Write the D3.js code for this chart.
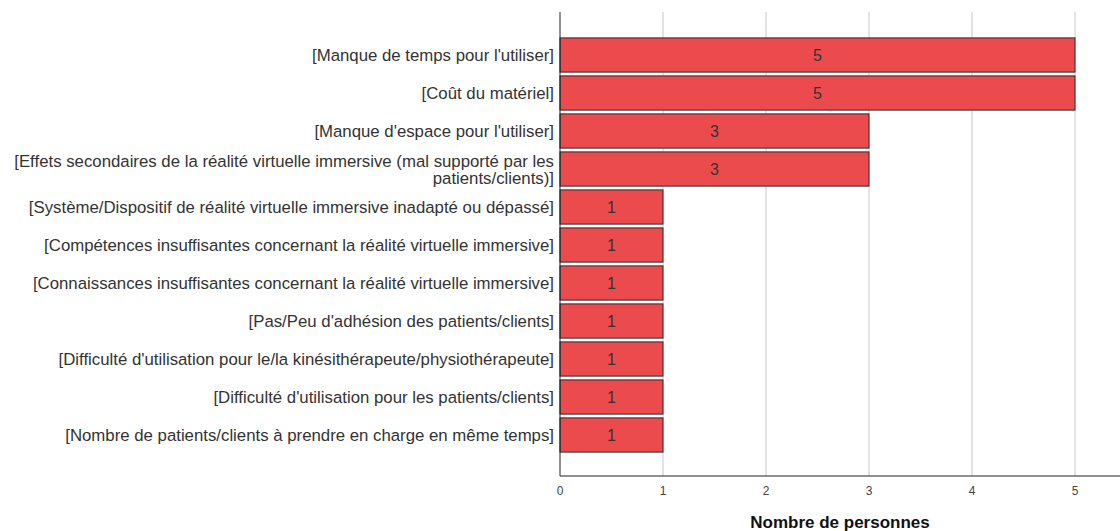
<!DOCTYPE html>
<html lang="fr">
<head>
  <meta charset="UTF-8">
  <title>Obstacles</title>
  <script src="https://cdn.jsdelivr.net/npm/d3@7"></script>
  <style>
    body { margin: 0; background: #fff; }
    text { font-family: "Liberation Sans", Arial, sans-serif; }
  </style>
</head>
<body>
<script>
// categories (top to bottom) and counts
var categories = [
  "[Manque de temps pour l'utiliser]",
  "[Coût du matériel]",
  "[Manque d'espace pour l'utiliser]",
  "[Effets secondaires de la réalité virtuelle immersive (mal supporté par les|patients/clients)]",
  "[Système/Dispositif de réalité virtuelle immersive inadapté ou dépassé]",
  "[Compétences insuffisantes concernant la réalité virtuelle immersive]",
  "[Connaissances insuffisantes concernant la réalité virtuelle immersive]",
  "[Pas/Peu d'adhésion des patients/clients]",
  "[Difficulté d'utilisation pour le/la kinésithérapeute/physiothérapeute]",
  "[Difficulté d'utilisation pour les patients/clients]",
  "[Nombre de patients/clients à prendre en charge en même temps]"
];
var counts = [5, 5, 3, 3, 1, 1, 1, 1, 1, 1, 1];
var xTicks = [0, 1, 2, 3, 4, 5];

var w = 1120, h = 531;
var x0 = 560, axisY = 476, plotTop = 12;

var svg = d3.select("body").append("svg")
  .attr("width", w).attr("height", h);

var xScale = d3.scaleLinear().domain([0, 5]).range([x0, 1075]);
var yScale = d3.scaleBand().domain(categories)
  .range([36, 454]).paddingInner(0.1).paddingOuter(0.05);

// grid lines
svg.append("g").selectAll("line")
  .data(xTicks.filter(function(d) { return d > 0; }))
  .enter().append("line")
  .attr("x1", function(d) { return xScale(d); })
  .attr("x2", function(d) { return xScale(d); })
  .attr("y1", plotTop).attr("y2", axisY)
  .attr("stroke", "#c8c8c8").attr("stroke-width", 1);

// bars
svg.append("g").selectAll("rect")
  .data(categories)
  .enter().append("rect")
  .attr("x", xScale(0))
  .attr("y", function(d) { return yScale(d); })
  .attr("width", function(d, i) { return xScale(counts[i]) - xScale(0); })
  .attr("height", yScale.bandwidth())
  .attr("fill", "#ec4b4e")
  .attr("stroke", "#2a2a2a").attr("stroke-width", 1);

// value labels
svg.append("g").selectAll("text")
  .data(categories)
  .enter().append("text")
  .attr("x", function(d, i) { return (xScale(0) + xScale(counts[i])) / 2; })
  .attr("y", function(d) { return yScale(d) + yScale.bandwidth() / 2 + 6; })
  .attr("text-anchor", "middle")
  .attr("font-size", 16)
  .attr("fill", "#333")
  .text(function(d, i) { return counts[i]; });

// category labels (a "|" marks a line break)
var labels = svg.append("g").selectAll("text")
  .data(categories)
  .enter().append("text")
  .attr("text-anchor", "end")
  .attr("font-size", 16.8)
  .attr("fill", "#333");
labels.each(function(d) {
  var parts = d.split("|");
  var cy = yScale(d) + yScale.bandwidth() / 2;
  var start = parts.length > 1 ? cy - 2.5 : cy + 5.5;
  var t = d3.select(this);
  parts.forEach(function(p, j) {
    t.append("tspan").attr("x", 554).attr("y", start + j * 17.5).text(p);
  });
});

// axes lines
svg.append("line")
  .attr("x1", x0).attr("x2", x0).attr("y1", plotTop).attr("y2", axisY)
  .attr("stroke", "#222").attr("stroke-width", 1);
svg.append("line")
  .attr("x1", x0).attr("x2", w).attr("y1", axisY).attr("y2", axisY)
  .attr("stroke", "#222").attr("stroke-width", 1);

// tick labels
svg.append("g").selectAll("text")
  .data(xTicks)
  .enter().append("text")
  .attr("x", function(d) { return xScale(d); })
  .attr("y", 495)
  .attr("text-anchor", "middle")
  .attr("font-size", 12)
  .attr("fill", "#444")
  .text(function(d) { return d; });

// axis title
svg.append("text")
  .attr("x", 840).attr("y", 528)
  .attr("text-anchor", "middle")
  .attr("font-size", 17)
  .attr("font-weight", "bold")
  .attr("fill", "#111")
  .text("Nombre de personnes");
</script>
</body>
</html>
